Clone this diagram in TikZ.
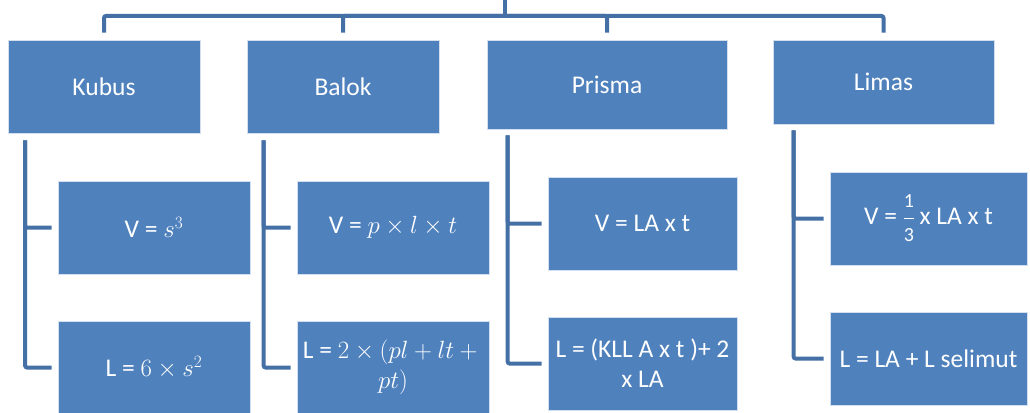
\documentclass[tikz,border=0pt]{standalone}
\usepackage{fontspec}
\setmainfont{Carlito}
\definecolor{boxblue}{HTML}{4F81BD}
\definecolor{connblue}{HTML}{4470A6}
\newcommand{\smalldig}[1]{\mbox{\fontsize{20}{20}\selectfont #1}}
\begin{document}
\begin{tikzpicture}[x=1pt,y=-1pt,
  box/.style={rectangle, fill=boxblue, draw=white!75!boxblue, line width=0.8pt,
    inner sep=0pt, text=white, align=center, font=\fontsize{25.5}{30}\selectfont},
  conn/.style={draw=connblue, line width=4pt, rounded corners=2pt}]
\useasboundingbox (0,0) rectangle (1030,412);
% level 1
\node[box, minimum width=192pt, minimum height=93pt] (kubus) at (104,86.5) {Kubus};
\node[box, minimum width=192pt, minimum height=93pt] (balok) at (343,86.5) {Balok};
\node[box, minimum width=240pt, minimum height=89pt] (prisma) at (607,84.5) {Prisma};
\node[box, minimum width=221pt, minimum height=84pt] (limas) at (883.5,82) {Limas};
% level 2
\node[box, minimum width=192pt, minimum height=93pt] (kv) at (154,227.5) {V = $s^3$};
\node[box, minimum width=192pt, minimum height=93pt] (kl) at (154,367.5) {L = $6\times s^2$};
\node[box, minimum width=192pt, minimum height=93pt] (bv) at (393,227.5) {V = $p\times l\times t$};
\node[box, minimum width=192pt, minimum height=93pt] (bl) at (393,367.5) {L = $2\times(pl+lt+{}$\\$pt)$};
\node[box, minimum width=189pt, minimum height=93pt] (pv) at (642.5,223.5) {V = LA x t};
\node[box, minimum width=189pt, minimum height=93pt] (pl) at (642.5,363.5) {L = (KLL A x t )+ 2\\x LA};
\node[box, minimum width=197pt, minimum height=93pt] (lv) at (928.5,218.5) {V = $\displaystyle\frac{\smalldig{1}}{\smalldig{3}}$\,x LA x t};
\node[box, minimum width=197pt, minimum height=93pt] (ll) at (928.5,358.5) {L = LA + L selimut};
% top connectors
\coordinate (root) at (505,-2);
\coordinate (bus) at (505,16);
\draw[conn] (root) -- (bus);
\draw[conn] ([yshift=7pt]kubus.north) |- (bus);
\draw[conn] ([yshift=7pt]balok.north) |- (bus);
\draw[conn] ([yshift=7pt]prisma.north) |- (bus);
\draw[conn] ([yshift=7pt]limas.north) |- (bus);
% side connectors
\draw[conn] ([xshift=17.5pt,yshift=-7pt]kubus.south west) |- ([xshift=-6pt]kv.west);
\draw[conn] ([xshift=17.5pt,yshift=-7pt]kubus.south west) |- ([xshift=-6pt]kl.west);
\draw[conn] ([xshift=17pt,yshift=-7pt]balok.south west) |- ([xshift=-6pt]bv.west);
\draw[conn] ([xshift=17pt,yshift=-7pt]balok.south west) |- ([xshift=-6pt]bl.west);
\draw[conn] ([xshift=21pt,yshift=-6pt]prisma.south west) |- ([xshift=-6pt]pv.west);
\draw[conn] ([xshift=21pt,yshift=-6pt]prisma.south west) |- ([xshift=-6pt]pl.west);
\draw[conn] ([xshift=21pt,yshift=-6pt]limas.south west) |- ([xshift=-6pt]lv.west);
\draw[conn] ([xshift=21pt,yshift=-6pt]limas.south west) |- ([xshift=-6pt]ll.west);
\end{tikzpicture}
\end{document}
